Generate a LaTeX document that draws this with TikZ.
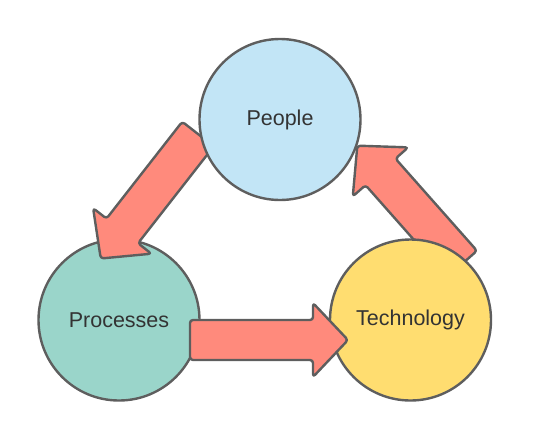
\documentclass[tikz,border=0pt]{standalone}
\usepackage{fontspec}
\setmainfont{Liberation Sans}
\usetikzlibrary{positioning}
\definecolor{peopleblue}{HTML}{C2E5F6}
\definecolor{processgreen}{HTML}{9AD5CA}
\definecolor{techyellow}{HTML}{FFDD70}
\definecolor{arrowsalmon}{HTML}{FF8A7C}
\definecolor{outlinegray}{HTML}{5E5E5E}
\definecolor{textgray}{HTML}{333333}

\tikzset{
  stage/.style={circle, draw=outlinegray, line width=2.4pt, minimum size=161pt, inner sep=0pt,
    font=\fontsize{21.5}{25}\selectfont, text=textgray},
  blockarrow/.style={fill=arrowsalmon, draw=outlinegray, line width=2.4pt, rounded corners=3pt, line join=round}
}

% block arrow from a tail coordinate (#1) turned by #2 degrees
\newcommand{\flowarrow}[2]{%
  \draw[blockarrow, shift={(#1)}, rotate=#2]
    (60,-20) -- (123,-20) -- (123,-37) -- (158,0) -- (123,37) -- (123,20) -- (0,20) -- (0,-20) -- cycle;}

\begin{document}
\begin{tikzpicture}[x=1pt, y=1pt]
    \useasboundingbox (0,0) rectangle (541,-440);

    % Tails of the three arrows
    \coordinate (tailA) at (198,-134);
    \coordinate (tailB) at (190,-340);
    \coordinate (tailC) at (462,-264);

    % Processes and the arrow onto it
    \node[stage, fill=processgreen] (processes) at (119,-320) {Processes};
    \flowarrow{tailA}{-128}

    % People and the arrow onto it
    \node[stage, fill=peopleblue] (people) at (280,-119.5) {People};
    \flowarrow{tailC}{131.5}

    % Technology and the arrow onto it
    \node[stage, fill=techyellow] (technology) at (410.5,-320) {Technology};
    \flowarrow{tailB}{0}
\end{tikzpicture}
\end{document}
